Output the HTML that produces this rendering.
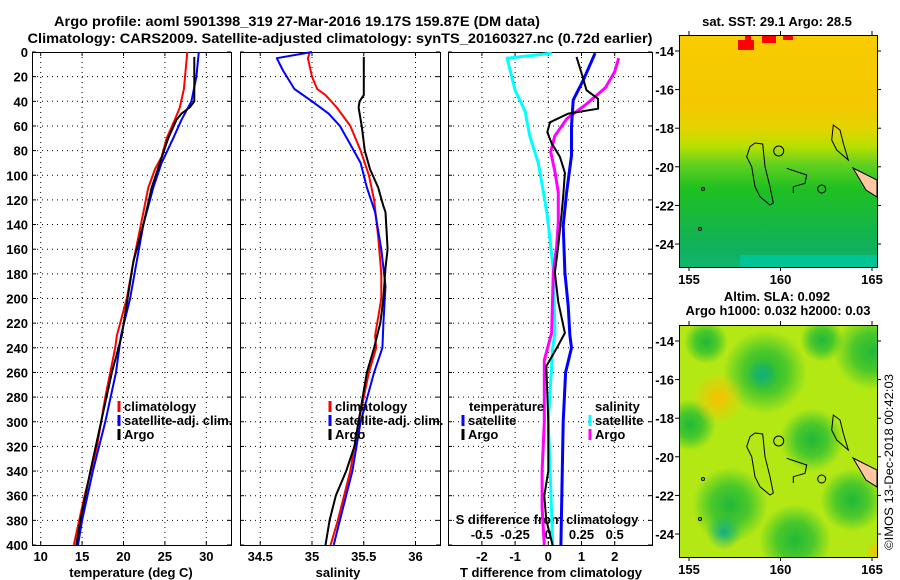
<!DOCTYPE html>
<html><head><meta charset="utf-8"><style>
html,body{margin:0;padding:0;background:#fff;}
svg{display:block;font-family:"Liberation Sans",sans-serif;font-weight:bold;}
</style></head><body>
<svg id="c" width="900" height="580" viewBox="0 0 900 580" xmlns="http://www.w3.org/2000/svg">
<defs>
<linearGradient id="sstg" x1="0" y1="0" x2="0" y2="1">
<stop offset="0" stop-color="#f8cc00"/><stop offset="0.3" stop-color="#f4c800"/>
<stop offset="0.4" stop-color="#e4d400"/><stop offset="0.48" stop-color="#b8e000"/>
<stop offset="0.56" stop-color="#60d020"/><stop offset="0.66" stop-color="#20c020"/>
<stop offset="0.85" stop-color="#14b44c"/><stop offset="0.93" stop-color="#10b060"/>
<stop offset="1" stop-color="#10b86c"/></linearGradient>
<radialGradient id="rOr"><stop offset="0" stop-color="#f8c000"/><stop offset="1" stop-color="#f8c000" stop-opacity="0"/></radialGradient>
<radialGradient id="rGr"><stop offset="0" stop-color="#20b838"/><stop offset="0.5" stop-color="#30c030" stop-opacity="0.8"/><stop offset="1" stop-color="#30c030" stop-opacity="0"/></radialGradient>
<radialGradient id="rTe"><stop offset="0" stop-color="#10b080"/><stop offset="1" stop-color="#10b080" stop-opacity="0"/></radialGradient>
<clipPath id="m1c"><rect x="679" y="35" width="198" height="232"/></clipPath>
<clipPath id="m2c"><rect x="679" y="325" width="198" height="232"/></clipPath>
</defs>
<text x="297" y="26" text-anchor="middle" font-size="14" textLength="486" lengthAdjust="spacingAndGlyphs">Argo profile: aoml 5901398_319 27-Mar-2016 19.17S 159.87E (DM data)</text>
<text x="340" y="43" text-anchor="middle" font-size="14" textLength="625" lengthAdjust="spacingAndGlyphs">Climatology: CARS2009. Satellite-adjusted climatology: synTS_20160327.nc (0.72d earlier)</text>
<g id="panels"></g>
<g id="maps"></g>
<text transform="translate(893,550) rotate(-90)" font-size="12" font-weight="normal" textLength="176" lengthAdjust="spacingAndGlyphs">©IMOS 13-Dec-2018 00:42:03</text>
</svg>
<script>
// ---------- DATA ----------
const depthTicks=[0,20,40,60,80,100,120,140,160,180,200,220,240,260,280,300,320,340,360,380,400];
const tTicks=[10,15,20,25,30];
const sTicks=[34.5,35,35.5,36];
const dtTicks=[-2,-1,0,1,2];
const dsTickLabels=["-0.5","-0.25","0","0.25","0.5"];
const dsTickVals=[-0.5,-0.25,0,0.25,0.5];
// temperature
const tClimD=[0,30,45,55,70,85,95,110,130,150,170,200,230,240,280,320,360,400];
const tClimV=[27.7,27.3,26.8,26.2,25.2,24.6,23.8,23.0,22.4,21.8,21.2,20.4,19.2,19.0,17.8,16.8,15.3,14.0];
const tSatD=[0,20,40,55,70,90,110,140,170,200,230,260,300,340,380,400];
const tSatV=[29.1,28.8,28.2,27.0,26.0,24.6,23.6,22.4,21.6,20.8,19.7,19.1,17.8,16.3,15.0,14.5];
const tArgoD=[4,40,45,50,55,70,90,110,140,170,200,230,260,300,340,380,400];
const tArgoV=[28.55,28.55,28.0,27.0,26.4,25.4,24.4,23.4,22.4,21.2,20.5,19.8,18.6,17.3,16.0,14.8,14.3];
// salinity
const sClimD=[0,5,20,30,35,45,60,80,100,120,150,180,200,230,240,260,300,340,380,400];
const sClimV=[34.98,34.96,35.0,35.05,35.13,35.24,35.37,35.47,35.55,35.6,35.64,35.67,35.67,35.61,35.62,35.55,35.45,35.37,35.25,35.18];
const sSatD=[0,5,15,30,40,50,60,75,90,110,130,160,190,220,240,260,300,340,380,400];
const sSatV=[35.0,34.66,34.72,34.83,35.0,35.16,35.27,35.37,35.47,35.53,35.61,35.67,35.71,35.69,35.68,35.6,35.47,35.39,35.27,35.21];
const sArgoD=[4,35,40,45,60,80,95,110,125,130,160,175,200,220,240,260,280,320,340,360,380,400];
const sArgoV=[35.5,35.5,35.46,35.45,35.48,35.51,35.56,35.64,35.69,35.71,35.73,35.71,35.69,35.66,35.6,35.53,35.49,35.41,35.33,35.23,35.17,35.13];
// differences
const dtSatD=[1,23,39,60,84,114,141,179,206,230,240,260,300,400];
const dtSatV=[1.41,1.05,0.75,0.7,0.7,0.55,0.45,0.5,0.6,0.65,0.7,0.52,0.45,0.38];
const dtArgoD=[4,17,31,38,46,50,57,65,74,85,98,117,131,157,179,203,228,240,255,300,340,360,380,400];
const dtArgoV=[0.85,1.0,1.15,1.5,1.5,0.6,0.05,-0.03,0.1,0.35,0.5,0.45,0.4,0.3,0.2,0.3,0.5,0.26,-0.06,0,0,-0.12,-0.06,0.13];
const dsSatD=[1,5,31,48,68,90,112,131,152,179,228,240,300,350,400];
const dsSatV=[0.026,-0.31,-0.25,-0.175,-0.14,-0.075,-0.04,-0.01,0.013,0.04,0.05,0.033,0,0.017,0.033];
const dsArgoD=[5,16,29,42,54,68,81,97,114,138,157,179,228,250,300,340,370,400];
const dsArgoV=[0.53,0.5,0.43,0.29,0.14,0.05,0.018,0.05,0.075,0.075,0.063,0.038,0.025,-0.03,-0.03,-0.047,-0.047,-0.03];
const latTicks=[-14,-16,-18,-20,-22,-24];
const lonTicks=[155,160,165];

// ---------- HELPERS ----------
const NS="http://www.w3.org/2000/svg";
function mk(tag,attrs,parent){const e=document.createElementNS(NS,tag);for(const k in attrs)e.setAttribute(k,attrs[k]);parent.appendChild(e);return e;}
const yD=d=>52+d*1.2325;
const xT=v=>40.7+(v-10)*8.28;
const xS=v=>312+(v-35)*103.5;
const xDT=v=>548.3+v*33.2;
const xDS=v=>548.3+v*132.8;
const P=document.getElementById('panels');
function panel(x0,x1,name){
  const g=mk('g',{},P);
  
  
  return g;
}
function grid(g,x0,x1,xs){
  depthTicks.forEach(d=>{if(d>0&&d<400){const l=mk('line',{x1:x0,x2:x1,y1:yD(d),y2:yD(d),stroke:'#000','stroke-width':1,'stroke-dasharray':'1,4'},g);
  }
  mk('line',{x1:x0,x2:x0+4,y1:yD(d),y2:yD(d),stroke:'#000'},g);mk('line',{x1:x1-4,x2:x1,y1:yD(d),y2:yD(d),stroke:'#000'},g);});
  xs.forEach(x=>{const l=mk('line',{x1:x,x2:x,y1:yD(0),y2:yD(400),stroke:'#000','stroke-width':1,'stroke-dasharray':'1,4'},g);
  
  mk('line',{x1:x,x2:x,y1:yD(400),y2:yD(400)-4,stroke:'#000'},g);mk('line',{x1:x,x2:x,y1:yD(0),y2:yD(0)+4,stroke:'#000'},g);});
}
function frame(g,x0,x1){const r=mk('rect',{x:x0+0.5,y:yD(0)+0.5,width:x1-x0,height:yD(400)-yD(0),fill:'none',stroke:'#000','stroke-width':1},g);
  }
function line(g,D,V,fx,color,w,name){
  const pts=D.map((d,i)=>fx(V[i]).toFixed(1)+','+yD(d).toFixed(1)).join(' ');
  const p=mk('polyline',{points:pts,fill:'none',stroke:color,'stroke-width':w,'stroke-linejoin':'round'},g);
  
  
}
function txt(g,x,y,s,anchor,size,name){const t=mk('text',{x:x,y:y,'text-anchor':anchor||'start','font-size':size||13},g);t.textContent=s;
  return t;}
function legend(g,x,y,color,s,name){mk('line',{x1:x,x2:x,y1:y-10,y2:y+1,stroke:color,'stroke-width':3},g);
  const t=txt(g,x+5,y,s,'start',13,name);}

// ---------- PANEL 1 ----------
let g=panel(32,231,'temperature-panel');
grid(g,32,231,tTicks.map(xT));
frame(g,32,231);
depthTicks.forEach(d=>txt(g,28,yD(d)+5,String(d),'end',13,'depth-tick-label'));
tTicks.forEach(v=>txt(g,xT(v),561,String(v),'middle',13,'temperature-tick-label'));
txt(g,131,577,'temperature (deg C)','middle',13,'temperature-axis-title');
line(g,tClimD,tClimV,xT,'#ff0000',2,'temperature-climatology-line');
line(g,tSatD,tSatV,xT,'#0000ff',2,'temperature-satellite-line');
line(g,tArgoD,tArgoV,xT,'#000000',2,'temperature-argo-line');
legend(g,119,411,'#ff0000','climatology','legend-climatology');
legend(g,119,425,'#0000ff','satellite-adj. clim.','legend-satellite');
legend(g,119,439,'#000000','Argo','legend-argo');

// ---------- PANEL 2 ----------
g=panel(240,440,'salinity-panel');
grid(g,240,440,sTicks.map(xS));
frame(g,240,440);
sTicks.forEach(v=>txt(g,xS(v),561,String(v),'middle',13,'salinity-tick-label'));
txt(g,338,577,'salinity','middle',13,'salinity-axis-title');
line(g,sClimD,sClimV,xS,'#ff0000',2,'salinity-climatology-line');
line(g,sSatD,sSatV,xS,'#0000ff',2,'salinity-satellite-line');
line(g,sArgoD,sArgoV,xS,'#000000',2,'salinity-argo-line');
legend(g,330,411,'#ff0000','climatology','legend-climatology');
legend(g,330,425,'#0000ff','satellite-adj. clim.','legend-satellite');
legend(g,330,439,'#000000','Argo','legend-argo');

// ---------- PANEL 3 ----------
g=panel(448,652,'difference-panel');
grid(g,448,652,dtTicks.map(xDT));
frame(g,448,652);
dtTicks.forEach(v=>txt(g,xDT(v),561,String(v),'middle',13,'t-diff-tick-label'));
txt(g,551,577,'T difference from climatology','middle',13,'t-diff-axis-title');
txt(g,547,524,'S difference from climatology','middle',13,'s-diff-axis-title');
dsTickVals.forEach((v,i)=>txt(g,xDS(v),539,dsTickLabels[i],'middle',13,'s-diff-tick-label'));
line(g,dsSatD,dsSatV,xDS,'#00ffff',3,'salinity-diff-satellite-line');
line(g,dsArgoD,dsArgoV,xDS,'#ff00ff',3,'salinity-diff-argo-line');
line(g,dtSatD,dtSatV,xDT,'#0000ff',3,'temperature-diff-satellite-line');
line(g,dtArgoD,dtArgoV,xDT,'#000000',2,'temperature-diff-argo-line');
txt(g,469,411,'temperature','start',13,'legend-temperature-header');
legend(g,463,425,'#0000ff','satellite','legend-t-satellite');
legend(g,463,439,'#000000','Argo','legend-t-argo');
txt(g,595,411,'salinity','start',13,'legend-salinity-header');
legend(g,590,425,'#00ffff','satellite','legend-s-satellite');
legend(g,590,439,'#ff00ff','Argo','legend-s-argo');

// ---------- MAPS ----------
const M=document.getElementById('maps');
const lonX=v=>689+(v-155)*18.3;
function mapAxes(g,top,off){
  mk('rect',{x:679.5,y:top+0.5,width:198,height:232,fill:'none',stroke:'#000'},g);
  latTicks.forEach(l=>{const y=51+off+(-14-l)*19.3;
    mk('line',{x1:675,x2:679,y1:y,y2:y,stroke:'#000'},g);mk('line',{x1:877,x2:881,y1:y,y2:y,stroke:'#000'},g);
    txt(g,674,y+5,String(l),'end',13,'latitude-tick-label');});
  lonTicks.forEach(v=>{const x=lonX(v);mk('line',{x1:x,x2:x,y1:top+232,y2:top+236,stroke:'#000'},g);mk('line',{x1:x,x2:x,y1:top,y2:top-4,stroke:'#000'},g);
    txt(g,x,top+249,String(v),'middle',13,'longitude-tick-label');});
}
function coast(g){
  const c={fill:'none',stroke:'#000','stroke-width':1};
  mk('polygon',Object.assign({points:'755,143 762.7,144 765,166.7 770,186.7 773.3,203 770,205 760,196.7 755,186.7 751.7,166.7 746.7,156.7 750,146.7'},c),g);
  mk('circle',Object.assign({cx:778.7,cy:151,r:5},c),g);
  mk('polyline',Object.assign({points:'786.7,168.3 806.7,175 805,183.3 793.3,186.7 793.3,193'},c),g);
  mk('circle',Object.assign({cx:821.7,cy:189,r:4},c),g);
  mk('polygon',Object.assign({points:'833.3,125 840,130 843.3,143.3 848.3,160 836.7,150 831.7,140'},c),g);
  mk('polygon',{points:'853,168 877,180 877,197 866,190',fill:'#ffc8a0',stroke:'#000'},g);
  mk('circle',Object.assign({cx:703,cy:189,r:1.5},c),g);
  mk('circle',Object.assign({cx:700,cy:229,r:1.5},c),g);
}
// map 1: SST
let m=mk('g',{},M);


txt(m,777,26,'sat. SST: 29.1 Argo: 28.5','middle',13,'sst-map-title');
let mc=mk('g',{'clip-path':'url(#m1c)'},m);
mk('rect',{x:679,y:35,width:198,height:232,fill:'url(#sstg)'},mc);
mk('rect',{x:740,y:255,width:140,height:12,fill:'#00c494'},mc);
mk('rect',{x:738,y:40,width:16,height:10,fill:'#ff0000'},mc);
mk('rect',{x:745,y:35,width:6,height:6,fill:'#ff0000'},mc);
mk('rect',{x:762,y:35,width:14,height:8,fill:'#ff0000'},mc);
mk('rect',{x:783,y:35,width:10,height:5,fill:'#ff0000'},mc);
coast(mc);
mapAxes(m,35,0);
// map 2: SLA
m=mk('g',{},M);


txt(m,777,301,'Altim. SLA: 0.092','middle',13,'sla-map-title');
txt(m,778,315,'Argo h1000: 0.032 h2000: 0.03','middle',13,'sla-map-subtitle');
mc=mk('g',{'clip-path':'url(#m2c)'},m);
mk('rect',{x:679,y:325,width:198,height:232,fill:'#b4e814'},mc);
[[765,372,42,'rGr'],[706,342,22,'rGr'],[690,425,26,'rGr'],[812,440,32,'rGr'],[872,352,38,'rGr'],[852,500,32,'rGr'],[795,540,36,'rGr'],[730,505,38,'rGr'],[724,532,18,'rTe'],[762,375,16,'rTe'],[822,340,22,'rGr'],[718,398,26,'rOr'],[877,552,12,'rOr']].forEach(b=>{
  mk('circle',{cx:b[0],cy:b[1],r:b[2],fill:'url(#'+b[3]+')'},mc);});
const cg=mk('g',{transform:'translate(0,290)'},mc);coast(cg);
mapAxes(m,325,290);
</script>
</body></html>
